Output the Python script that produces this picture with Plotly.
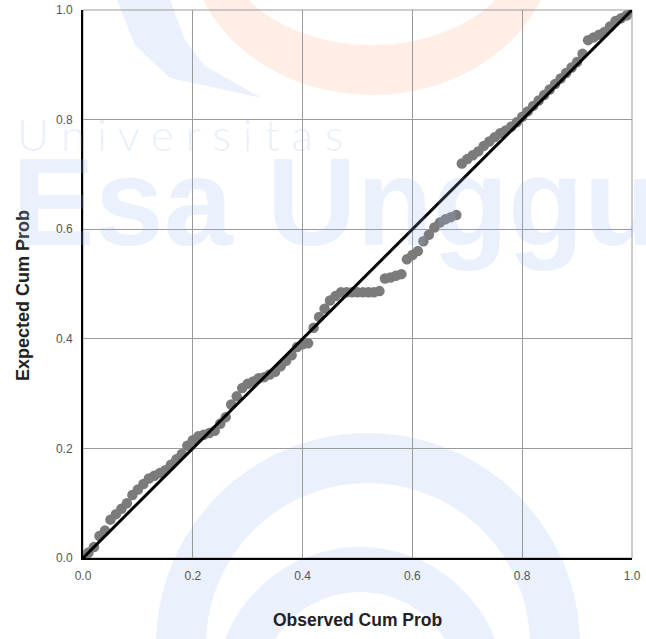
import numpy as np
import plotly.graph_objects as go

# ---- data ----
observed_cum_prob = [
    0.005, 0.01, 0.02, 0.03, 0.04, 0.05, 0.06, 0.07, 0.08, 0.09, 0.10,
    0.11, 0.12, 0.13, 0.14, 0.15, 0.16, 0.17, 0.18, 0.19, 0.20,
    0.21, 0.22, 0.23, 0.24, 0.25, 0.26, 0.27, 0.28, 0.29, 0.30,
    0.31, 0.32, 0.33, 0.34, 0.35, 0.36, 0.37, 0.38, 0.39, 0.40,
    0.41, 0.42, 0.43, 0.44, 0.45, 0.46, 0.47, 0.48, 0.49, 0.50,
    0.51, 0.52, 0.53, 0.54, 0.55, 0.56, 0.57, 0.58, 0.59, 0.60,
    0.61, 0.62, 0.63, 0.64, 0.65, 0.66, 0.67, 0.68, 0.69, 0.70,
    0.71, 0.72, 0.73, 0.74, 0.75, 0.76, 0.77, 0.78, 0.79, 0.80,
    0.81, 0.82, 0.83, 0.84, 0.85, 0.86, 0.87, 0.88, 0.89, 0.90,
    0.91, 0.92, 0.93, 0.94, 0.95, 0.96, 0.97, 0.98, 0.99, 1.00,
]
expected_cum_prob = [
    0.005, 0.01, 0.02, 0.04, 0.05, 0.07, 0.08, 0.09, 0.10, 0.115, 0.125,
    0.135, 0.145, 0.15, 0.155, 0.16, 0.17, 0.18, 0.19, 0.205, 0.215,
    0.222, 0.225, 0.228, 0.232, 0.245, 0.257, 0.28, 0.295, 0.31, 0.318,
    0.322, 0.328, 0.33, 0.335, 0.34, 0.35, 0.36, 0.37, 0.385, 0.39,
    0.392, 0.42, 0.44, 0.455, 0.47, 0.478, 0.485, 0.485, 0.485, 0.485,
    0.485, 0.485, 0.485, 0.487, 0.51, 0.512, 0.515, 0.518, 0.545, 0.553,
    0.56, 0.578, 0.59, 0.603, 0.612, 0.618, 0.622, 0.626, 0.72, 0.728,
    0.735, 0.742, 0.752, 0.76, 0.768, 0.775, 0.78, 0.787, 0.795, 0.805,
    0.815, 0.825, 0.835, 0.845, 0.855, 0.865, 0.875, 0.885, 0.895, 0.905,
    0.92, 0.945, 0.95, 0.955, 0.96, 0.97, 0.98, 0.985, 0.99, 1.0,
]
reference_line = [0.0, 1.0]
tick_values = [0.0, 0.2, 0.4, 0.6, 0.8, 1.0]
tick_labels = ["0.0", "0.2", "0.4", "0.6", "0.8", "1.0"]

W, H = 646, 639
L, R, T, B = 83, 14, 10, 81
PW, PH = W - L - R, H - T - B


def px(x):
    return (x - L) / PW


def py(y):
    return (H - B - y) / PH


def ellipse_pts(cx, cy, rx, ry, reverse=False, n=90):
    t = np.linspace(0, 2 * np.pi, n)
    if reverse:
        t = t[::-1]
    return [(px(cx + rx * np.cos(a)), py(cy + ry * np.sin(a))) for a in t]


def ring_path(cx, cy, rxo, ryo, rxi, ryi):
    o = ellipse_pts(cx, cy, rxo, ryo)
    i = ellipse_pts(cx, cy, rxi, ryi, reverse=True)
    s = "M " + " L ".join(f"{a:.4f},{b:.4f}" for a, b in o) + " Z "
    s += "M " + " L ".join(f"{a:.4f},{b:.4f}" for a, b in i) + " Z"
    return s


BLUE = "rgba(200,218,248,0.38)"
ORANGE = "rgba(252,215,195,0.42)"

shapes = []
# orange ring at top
shapes.append(dict(type="path", xref="paper", yref="paper", layer="below",
                   path=ring_path(372, -60, 183, 155, 150, 105),
                   fillcolor=ORANGE, line=dict(width=0)))
# blue swoosh top-left
sw = [(117, 0), (135, 45), (170, 78), (262, 98), (205, 66), (185, 40), (170, 0)]
shapes.append(dict(type="path", xref="paper", yref="paper", layer="below",
                   path="M " + " L ".join(f"{px(a):.4f},{py(b):.4f}" for a, b in sw) + " Z",
                   fillcolor=BLUE, line=dict(width=0)))
# bottom blue rings
shapes.append(dict(type="path", xref="paper", yref="paper", layer="below",
                   path=ring_path(368, 645, 212, 212, 162, 162),
                   fillcolor=BLUE, line=dict(width=0)))
shapes.append(dict(type="path", xref="paper", yref="paper", layer="below",
                   path=ring_path(360, 692, 145, 145, 100, 100),
                   fillcolor=BLUE, line=dict(width=0)))
# plot frame (top/right gray)
shapes.append(dict(type="rect", xref="paper", yref="paper", x0=0, y0=0, x1=1, y1=1,
                   line=dict(color="#9a9a9a", width=1), layer="below"))

fig = go.Figure()
fig.add_trace(go.Scatter(
    x=observed_cum_prob, y=expected_cum_prob, mode="markers",
    marker=dict(size=10.5, color="#7b7b7b", line=dict(width=0)),
    showlegend=False, hoverinfo="x+y"))
fig.add_trace(go.Scatter(
    x=reference_line, y=reference_line, mode="lines",
    line=dict(color="#000000", width=3), showlegend=False, hoverinfo="skip"))

axis_common = dict(
    range=[0, 1], tickvals=tick_values, ticktext=tick_labels,
    showgrid=True, gridcolor="#9a9a9a", gridwidth=1,
    zeroline=False, showline=True, linecolor="#000000", linewidth=2,
    ticks="", tickfont=dict(family="Liberation Sans, Arial", size=12, color="#555555"),
    fixedrange=True, automargin=False,
)

fig.update_layout(
    width=W, height=H,
    margin=dict(l=L, r=R, t=T, b=B, autoexpand=False),
    paper_bgcolor="#ffffff", plot_bgcolor="rgba(0,0,0,0)",
    xaxis=dict(**axis_common, ticklabelstandoff=6),
    yaxis=dict(**axis_common, ticklabelstandoff=6),
    shapes=shapes,
    annotations=[
        dict(text="Expected Cum Prob", xref="paper", yref="paper",
             x=px(23), y=py(296), textangle=-90, showarrow=False,
             xanchor="center", yanchor="middle",
             font=dict(family="Liberation Sans, Arial", size=18, color="#222222", weight="bold")),
        dict(text="Observed Cum Prob", xref="paper", yref="paper",
             x=px(357), y=py(620), showarrow=False,
             xanchor="center", yanchor="middle",
             font=dict(family="Liberation Sans, Arial", size=17.5, color="#222222", weight="bold")),
        dict(text="U n i v e r s i t a s", xref="paper", yref="paper",
             x=px(15), y=py(134), xanchor="left", yanchor="middle", showarrow=False,
             font=dict(family="Lato, Open Sans", size=44, color="rgba(150,180,240,0.22)", weight=300)),
        dict(text="Esa Unggul", xref="paper", yref="paper",
             x=px(10), y=py(202), xanchor="left", yanchor="middle", showarrow=False,
             font=dict(family="Liberation Sans, Arial", size=124, color="rgba(150,180,240,0.2)", weight="bold")),
    ],
)

fig.write_html("out.html", config={"displayModeBar": False},
               post_script="document.body.style.margin='0px';")
